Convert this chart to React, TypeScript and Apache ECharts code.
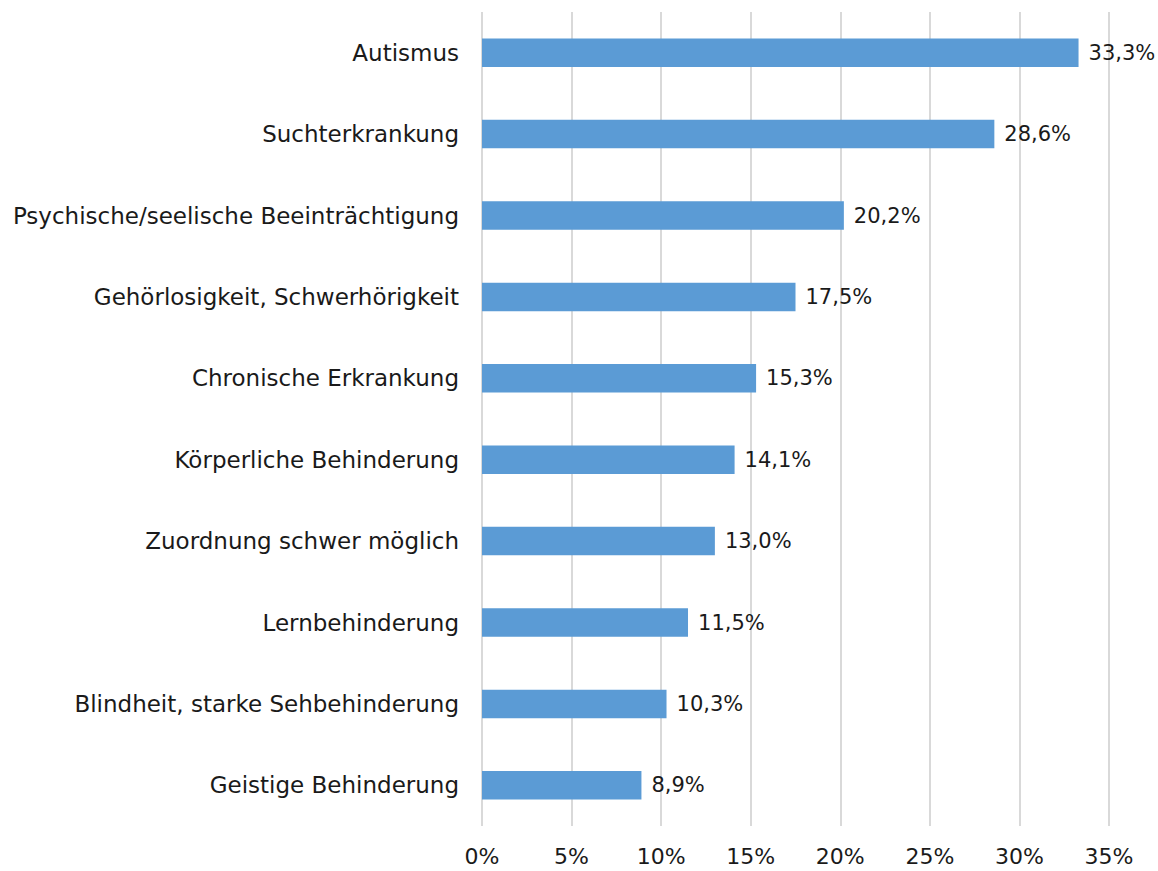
import React, { useEffect, useRef } from "react";
import * as echarts from "echarts";

const categories = [
  "Autismus",
  "Suchterkrankung",
  "Psychische/seelische Beeinträchtigung",
  "Gehörlosigkeit, Schwerhörigkeit",
  "Chronische Erkrankung",
  "Körperliche Behinderung",
  "Zuordnung schwer möglich",
  "Lernbehinderung",
  "Blindheit, starke Sehbehinderung",
  "Geistige Behinderung",
];
const values = [33.3, 28.6, 20.2, 17.5, 15.3, 14.1, 13.0, 11.5, 10.3, 8.9];
const xTicks = [0, 5, 10, 15, 20, 25, 30, 35];

const FONT = "DejaVu Sans";

export default function App() {
  const ref = useRef<HTMLDivElement>(null);
  useEffect(() => {
    if (!ref.current) return;
    const chart = echarts.init(ref.current, null, { renderer: "svg" });
    chart.setOption({
      animation: false,
      textStyle: { fontFamily: FONT },
      grid: { left: 482, right: 49, top: 12, bottom: 45, containLabel: false },
      xAxis: {
        type: "value",
        min: xTicks[0],
        max: xTicks[xTicks.length - 1],
        interval: 5,
        axisLine: { show: false },
        axisTick: { show: false },
        splitLine: { show: true, lineStyle: { color: "#d9d9d9", width: 2 } },
        axisLabel: {
          formatter: (v: number) => `${v}%`,
          fontSize: 22,
          color: "#1a1a1a",
          fontFamily: FONT,
          margin: 19,
        },
      },
      yAxis: {
        type: "category",
        inverse: true,
        data: categories,
        axisLine: { show: false },
        axisTick: { show: false },
        splitLine: { show: false },
        axisLabel: {
          fontSize: 23,
          color: "#1a1a1a",
          fontFamily: FONT,
          margin: 23,
        },
      },
      series: [
        {
          type: "bar",
          data: values,
          barWidth: "35%",
          itemStyle: { color: "#5b9bd5" },
          label: {
            show: true,
            position: "right",
            distance: 10,
            fontSize: 21,
            color: "#1a1a1a",
            fontFamily: FONT,
            formatter: (p: any) => `${p.value.toFixed(1).replace(".", ",")}%`,
          },
        },
      ],
    });
    return () => chart.dispose();
  }, []);
  return (
    <div
      ref={ref}
      style={{ position: "absolute", left: 0, top: 0, width: 1158, height: 871, background: "#fff" }}
    />
  );
}
